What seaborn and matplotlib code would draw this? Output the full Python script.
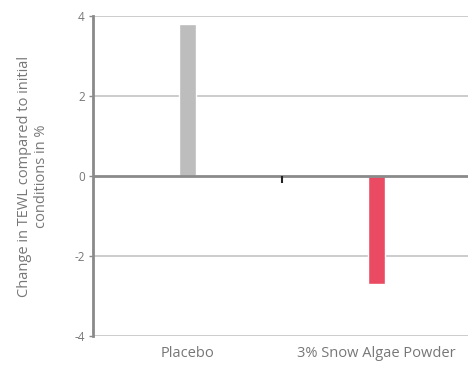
import pandas as pd
import matplotlib
matplotlib.use('Agg')
import matplotlib.pyplot as plt
import seaborn as sns

# Данные
groups = ['Placebo', '3% Snow Algae Powder']
tewl_change = [3.8, -2.7]
bar_colors = ['#bdbdbd', '#ea4a62']

df = pd.DataFrame({'group': groups, 'change': tewl_change})

sns.set_style('white')
plt.rcParams['font.family'] = ['Open Sans', 'DejaVu Sans']
plt.rcParams['axes.unicode_minus'] = False

fig = plt.figure(figsize=(4.68, 3.66), dpi=100)
ax = fig.add_axes([0.199, 0.082, 0.806, 0.874])

sns.barplot(data=df, x='group', y='change', hue='group', palette=bar_colors,
            width=0.09, legend=False, ax=ax, saturation=1)

ax.set_ylim(-4, 4)
ax.set_xlim(-0.5, 1.5)
ax.set_yticks([-4, -2, 0, 2, 4])
for y in [-4, -2, 2, 4]:
    ax.axhline(y, color='#c8c8c8', lw=1.3, zorder=0)
ax.axhline(0, color='#8a8a8a', lw=2, zorder=3)

# маленькая отметка между группами
mid = (0 + len(groups) - 1) / 2
ax.vlines(mid, -0.18, 0, color='#222222', lw=1.5, zorder=4)

for s in ['top', 'right', 'bottom']:
    ax.spines[s].set_visible(False)
ax.spines['left'].set_color('#8a8a8a')
ax.spines['left'].set_linewidth(2)

ax.tick_params(axis='y', length=3, width=1, color='#8a8a8a', colors='#777777',
               labelsize=8.5, pad=3, left=True)
ax.tick_params(axis='x', length=0, colors='#777777', labelsize=10.5, pad=7)
ax.set_xlabel('')
ax.set_ylabel('Change in TEWL compared to initial\nconditions in %', color='#777777',
              fontsize=10.5, labelpad=18, linespacing=1.25)

plt.savefig('out.png', dpi=100)
